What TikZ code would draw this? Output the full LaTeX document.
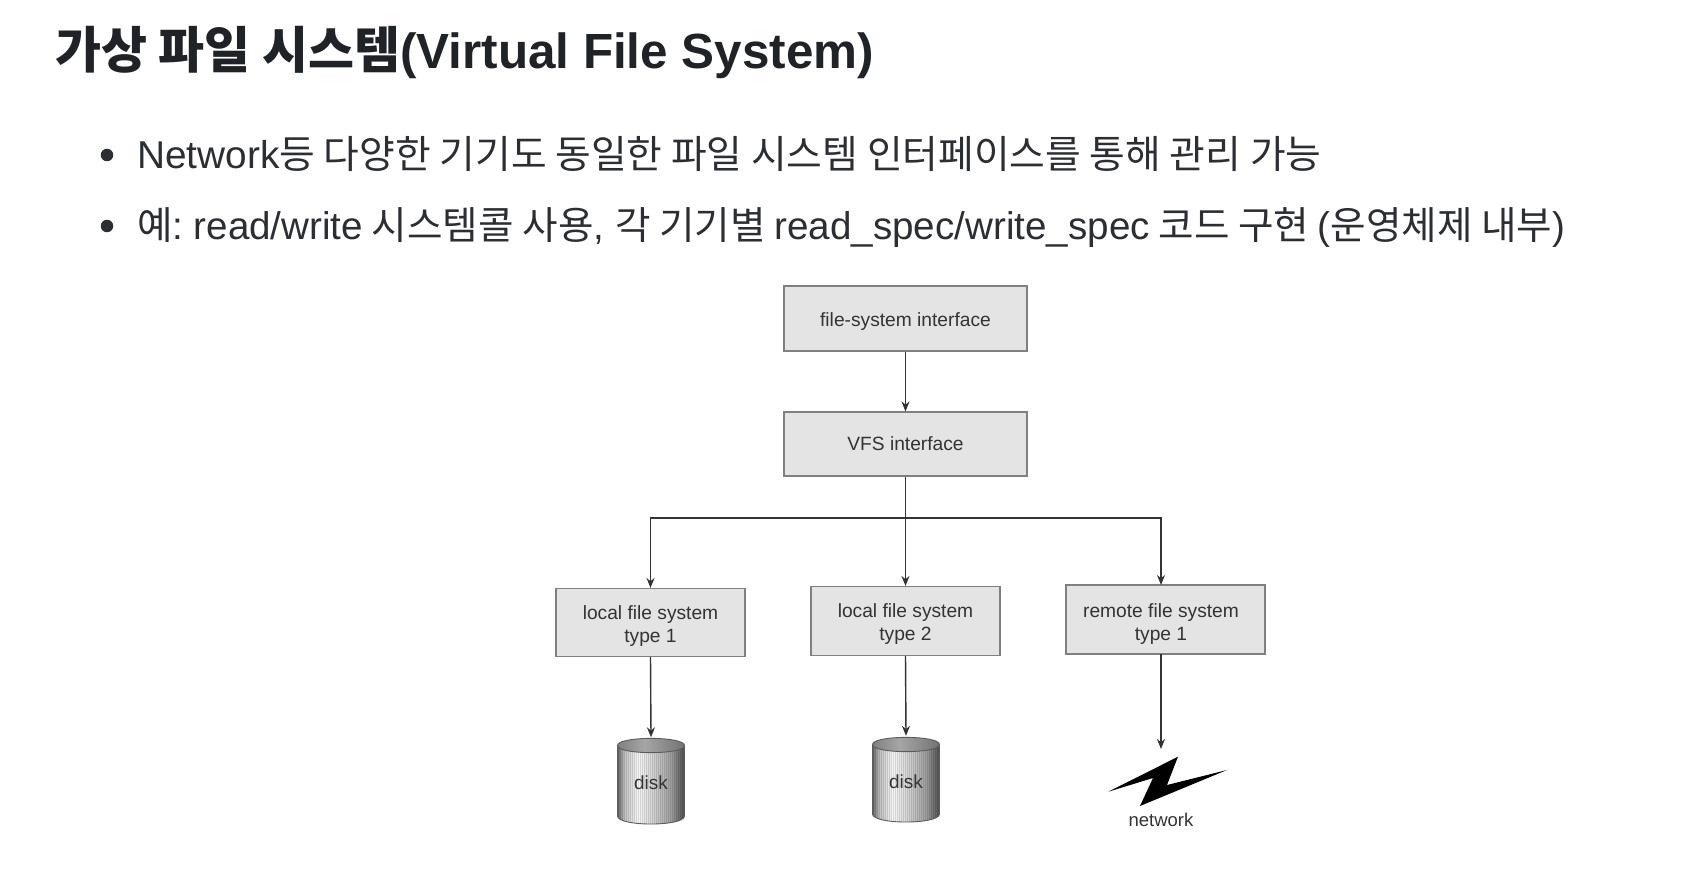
\documentclass[tikz,border=0pt]{standalone}
\usepackage{fontspec}
\setmainfont{Liberation Sans}
\newfontfamily\kr{Noto Sans CJK KR}
\usetikzlibrary{arrows.meta,calc}
\definecolor{titlecol}{HTML}{1F2328}
\definecolor{bodycol}{HTML}{2B2E33}
\definecolor{boxfill}{HTML}{E4E4E4}
\definecolor{boxline}{HTML}{808080}
\definecolor{inkcol}{HTML}{333333}
\pgfdeclarehorizontalshading{diskbody}{100bp}{color(0bp)=(black!60); color(25bp)=(black!60); color(30bp)=(black!25); color(40bp)=(black!3); color(50bp)=(black!15); color(65bp)=(black!38); color(75bp)=(black!70); color(100bp)=(black!70)}
\pgfdeclarehorizontalshading{disktop}{100bp}{color(0bp)=(black!50); color(25bp)=(black!50); color(45bp)=(black!35); color(60bp)=(black!45); color(75bp)=(black!55); color(100bp)=(black!55)}
\newcommand{\diskart}[3]{% x left, y of top ellipse centre, y of body side bottom
  \path[shading=diskbody] (#1,#2) -- (#1,#3) .. controls (#1,#3+10.7) and (#1+67,#3+10.7) .. (#1+67,#3) -- (#1+67,#2) -- cycle;
  \begin{scope}
    \clip (#1,#2) -- (#1,#3) .. controls (#1,#3+10.7) and (#1+67,#3+10.7) .. (#1+67,#3) -- (#1+67,#2) -- cycle;
    \foreach \s in {1,3,...,67}{\draw[black,opacity=.12,line width=.8pt] (#1+\s,#2) -- (#1+\s,#3+10);}
  \end{scope}
  \path[shading=disktop] (#1,#2) .. controls (#1,#2-9.5) and (#1+67,#2-9.5) .. (#1+67,#2) .. controls (#1+67,#2+9.5) and (#1,#2+9.5) .. (#1,#2) -- cycle;
  \draw[inkcol!80,line width=.9pt] (#1,#2) .. controls (#1,#2-9.5) and (#1+67,#2-9.5) .. (#1+67,#2) .. controls (#1+67,#2+9.5) and (#1,#2+9.5) .. (#1,#2) -- cycle;
  \draw[inkcol!80,line width=.9pt] (#1,#2) -- (#1,#3) .. controls (#1,#3+10.7) and (#1+67,#3+10.7) .. (#1+67,#3) -- (#1+67,#2);
}
\tikzset{
  titletext/.style={anchor=base west,inner sep=0pt,text=titlecol,font=\fontsize{49.4}{56}\selectfont\bfseries},
  bodytext/.style={anchor=base west,inner sep=0pt,text=bodycol,font=\fontsize{38.8}{46}\selectfont},
  bulletdot/.style={circle,fill=bodycol,inner sep=0pt,minimum size=12.5pt},
  fsbox/.style={draw=boxline,line width=1.1pt,fill=boxfill,inner sep=0pt,align=center,text=inkcol,font=\fontsize{19.2}{23}\selectfont},
  arr/.style={draw=inkcol,line width=1.4pt,-{Stealth[length=10pt,width=8pt]}},
  disklabel/.style={inner sep=0pt,text=inkcol,font=\fontsize{19}{23}\selectfont,minimum width=67pt,minimum height=86pt},
  netlabel/.style={inner sep=0pt,text=inkcol,font=\fontsize{18.5}{23}\selectfont}
}
\begin{document}
\begin{tikzpicture}[x=1pt,y=-1pt]
\useasboundingbox (0,0) rectangle (1706,872);
\node[titletext] (title) at (55,69) {{\kr\fontsize{50}{56}\selectfont 가상 파일 시스템}(Virtual File System)};
\node[bulletdot] (b1dot) at (107,155) {};
\node[bulletdot] (b2dot) at (107,226) {};
\node[bodytext] (line1) at (137,168.5) {Network{\kr 등 다양한 기기도 동일한 파일 시스템 인터페이스를 통해 관리 가능}};
\node[bodytext,font=\fontsize{38.6}{46}\selectfont] (line2) at (137,239) {{\kr 예}:\hspace{-4pt} read/write{\kr{} 시스템콜 사용}, {\kr 각 기기별 }read\_spec/write\_spec{\kr{} 코드 구현 }({\kr 운영체제 내부})};

\node[fsbox,minimum width=243pt,minimum height=65pt] (fs) at (905.5,318.5) {\rule{0pt}{19pt}file-system interface};
\node[fsbox,minimum width=243pt,minimum height=64pt] (vfs) at (905.5,444) {VFS interface};
\node[fsbox,minimum width=189pt,minimum height=68pt] (b1) at (650.5,622.5) {\rule{0pt}{20pt}local file system\\type 1};
\node[fsbox,minimum width=189pt,minimum height=69pt] (b2) at (905.5,621) {\rule{0pt}{20pt}local file system\\type 2};
\node[fsbox,minimum width=199pt,minimum height=69pt] (b3) at (1165.5,619.5) {\rule{0pt}{22pt}\hspace*{-9pt}remote file system\\\hspace*{-9pt}type 1};
\coordinate (branch) at (905.5,518);
\coordinate (b3in) at (1161,585);
\coordinate (b3out) at (1161,654);
\coordinate (netin) at (1161,749);

\diskart{617.5}{745.5}{816}
\diskart{872.5}{744.5}{814}
\node[disklabel] (d1) at (651,780.5) {\rule{0pt}{19pt}disk};
\node[disklabel] (d2) at (906,779) {\rule{0pt}{19pt}disk};
\fill[black] (1108.3,791.7) -- (1178,756.7) -- (1167,785) -- (1227,770) -- (1140,806) -- (1153,778) -- cycle;
\node[netlabel] (net) at (1161,819.5) {network};

\draw[arr] (fs.south) -- (vfs.north);
\draw[arr] (vfs.south) -- (b2.north);
\draw[arr] (branch) -| (b1.north);
\draw[arr] (branch) -| (b3in);
\draw[arr] (b1.south) -- (d1.north);
\draw[arr] (b2.south) -- (d2.north);
\draw[arr] (b3out) -- (netin);
\end{tikzpicture}
\end{document}
